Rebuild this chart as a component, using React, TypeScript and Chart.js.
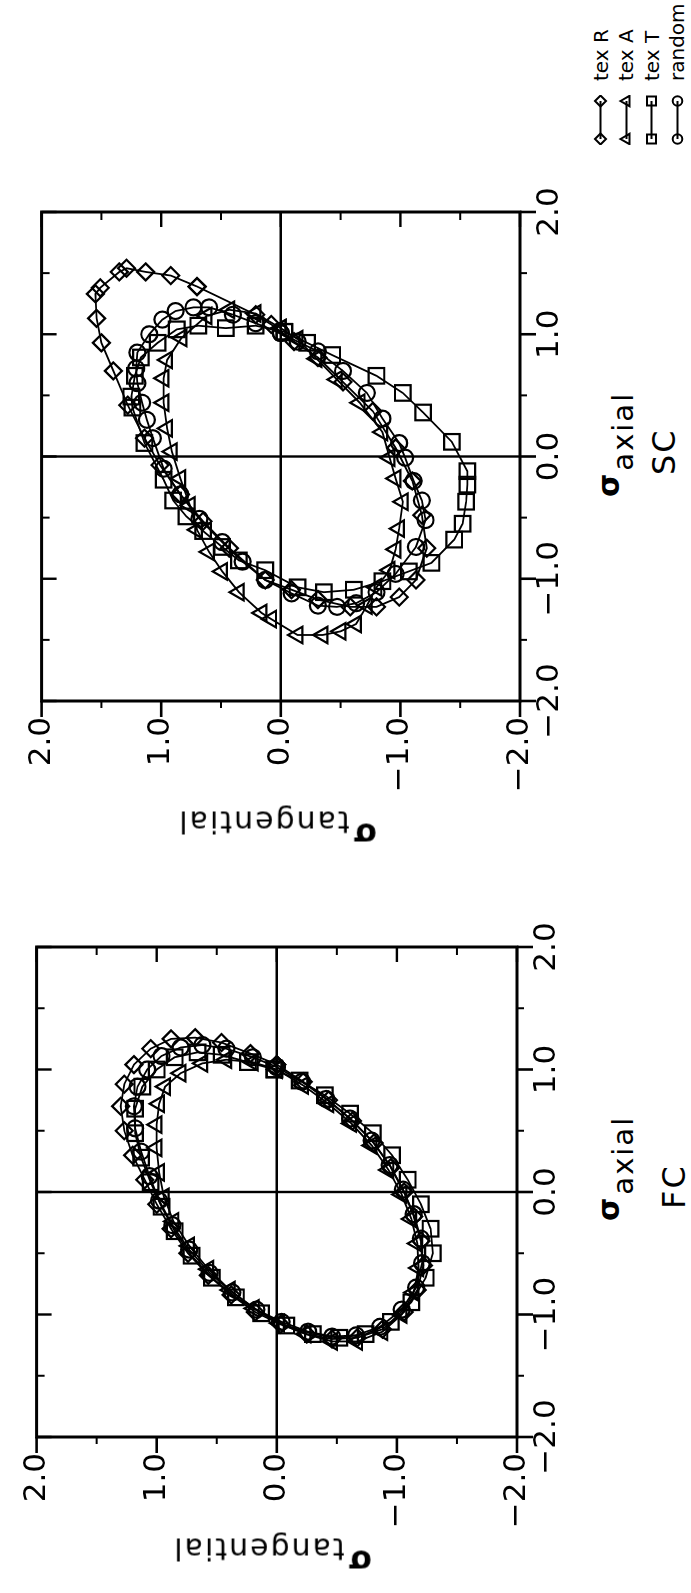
import React, { useEffect, useRef } from "react";
import { Chart, registerables } from "chart.js";

Chart.register(...registerables);

const FONT = "'DejaVu Sans', 'Liberation Sans', sans-serif";

// ---- series meta ----
const seriesNames = ["tex R", "tex A", "tex T", "random"];
const seriesMarkers = ["rectRot", "triangle", "rect", "circle"];
const markerRadius = [8.5, 9.5, 11, 8];

// ---- axes ----
const axisMin = -2;
const axisMax = 2;
const majorTicks = [-2, -1, 0, 1, 2];
const minorTicks = [-1.5, -0.5, 0.5, 1.5];
const tickLabels = ["\u22122.0", "\u22121.0", "0.0", "1.0", "2.0"];

// ---- SC panel data: [sigma_axial, sigma_tangential] ----
const scTexR = [
  [1.39, 0.7], [1.48, 0.92], [1.51, 1.13], [1.54, 1.29], [1.51, 1.35], [1.38, 1.51], [1.33, 1.55],
  [1.13, 1.54], [0.93, 1.5], [0.7, 1.4], [0.42, 1.28], [0.15, 1.14], [-0.07, 1.01], [-0.31, 0.84],
  [-0.53, 0.65], [-0.75, 0.43], [-1.01, 0.13], [-1.09, -0.09], [-1.17, -0.31], [-1.23, -0.58],
  [-1.23, -0.8], [-1.15, -0.99], [-1.01, -1.13], [-0.75, -1.22], [-0.48, -1.18], [-0.2, -1.1],
  [0.07, -0.96], [0.37, -0.77], [0.61, -0.52], [0.81, -0.31], [0.94, -0.11], [1.08, 0.08], [1.16, 0.21],
];
const scTexA = [
  [1.05, 0.0], [1.17, 0.21], [1.2, 0.43], [1.15, 0.62], [0.97, 0.83], [0.79, 0.95], [0.64, 0.98],
  [0.44, 0.98], [0.23, 0.95], [0.04, 0.91], [-0.18, 0.84], [-0.4, 0.76], [-0.6, 0.7], [-0.78, 0.6],
  [-0.94, 0.49], [-1.11, 0.35], [-1.28, 0.16], [-1.33, 0.08], [-1.46, -0.14], [-1.46, -0.35],
  [-1.43, -0.5], [-1.37, -0.63], [-1.22, -0.72], [-1.07, -0.8], [-0.93, -0.91], [-0.76, -0.96],
  [-0.59, -0.99], [-0.37, -1.02], [-0.18, -0.96], [-0.01, -0.91], [0.2, -0.85], [0.44, -0.66],
  [0.63, -0.47], [0.8, -0.3], [0.96, -0.14],
];
const scTexT = [
  [1.02, -0.03], [1.07, 0.21], [1.05, 0.46], [1.07, 0.69], [1.04, 0.87], [0.93, 1.03], [0.81, 1.17],
  [0.66, 1.22], [0.49, 1.25], [0.4, 1.24], [0.11, 1.14], [-0.19, 0.98], [-0.36, 0.9], [-0.49, 0.79],
  [-0.61, 0.65], [-0.74, 0.49], [-0.85, 0.35], [-0.93, 0.13], [-1.07, -0.14], [-1.11, -0.36],
  [-1.09, -0.61], [-1.02, -0.85], [-0.94, -1.07], [-0.87, -1.26], [-0.68, -1.45], [-0.55, -1.52],
  [-0.37, -1.55], [-0.23, -1.56], [-0.12, -1.56], [0.12, -1.43], [0.36, -1.19], [0.52, -1.02],
  [0.66, -0.8], [0.83, -0.43], [0.93, -0.22],
];
const scRandom = [
  [1.01, 0.0], [1.09, 0.21], [1.16, 0.4], [1.22, 0.6], [1.22, 0.73], [1.19, 0.88], [1.12, 0.99],
  [1.0, 1.1], [0.85, 1.2], [0.72, 1.21], [0.6, 1.2], [0.44, 1.16], [0.3, 1.12], [0.15, 1.07],
  [-0.1, 0.98], [-0.31, 0.84], [-0.51, 0.68], [-0.7, 0.49], [-0.86, 0.32], [-1.01, 0.13],
  [-1.12, -0.09], [-1.22, -0.31], [-1.23, -0.47], [-1.2, -0.63], [-1.11, -0.8], [-0.96, -0.96],
  [-0.74, -1.13], [-0.52, -1.21], [-0.36, -1.18], [-0.2, -1.11], [-0.01, -1.04], [0.11, -0.99],
  [0.31, -0.85], [0.52, -0.72], [0.7, -0.52], [0.86, -0.31], [0.94, -0.14],
];

// ---- FC panel data: [sigma_axial, sigma_tangential] ----
const fcTexR = [
  [1.04, 0.0], [1.13, 0.22], [1.22, 0.46], [1.26, 0.68], [1.25, 0.88], [1.17, 1.05], [1.04, 1.19],
  [0.88, 1.27], [0.7, 1.3], [0.5, 1.27], [0.3, 1.2], [0.1, 1.1], [-0.1, 1.0], [-0.3, 0.88],
  [-0.5, 0.74], [-0.68, 0.57], [-0.84, 0.38], [-0.98, 0.18], [-1.08, -0.03], [-1.16, -0.25],
  [-1.2, -0.46], [-1.19, -0.67], [-1.12, -0.88], [-0.98, -1.06], [-0.8, -1.17], [-0.6, -1.22],
  [-0.4, -1.2], [-0.2, -1.14], [0.0, -1.06], [0.2, -0.95], [0.4, -0.81], [0.58, -0.63],
  [0.75, -0.43], [0.9, -0.22],
];
const fcTexA = [
  [1.0, 0.0], [1.06, 0.2], [1.08, 0.42], [1.05, 0.62], [0.97, 0.8], [0.86, 0.93], [0.72, 0.98],
  [0.55, 1.0], [0.36, 1.0], [0.16, 0.98], [-0.04, 0.94], [-0.24, 0.86], [-0.44, 0.73], [-0.63, 0.57],
  [-0.8, 0.39], [-0.95, 0.19], [-1.07, -0.02], [-1.16, -0.24], [-1.22, -0.46], [-1.22, -0.67],
  [-1.14, -0.88], [-1.0, -1.04], [-0.82, -1.14], [-0.62, -1.18], [-0.42, -1.17], [-0.22, -1.12],
  [-0.02, -1.04], [0.18, -0.93], [0.38, -0.79], [0.56, -0.62], [0.72, -0.43], [0.87, -0.22],
];
const fcTexT = [
  [1.0, 0.02], [1.06, 0.24], [1.12, 0.46], [1.14, 0.66], [1.1, 0.85], [1.0, 1.0], [0.86, 1.12],
  [0.68, 1.18], [0.48, 1.18], [0.28, 1.13], [0.08, 1.05], [-0.12, 0.96], [-0.32, 0.85], [-0.52, 0.71],
  [-0.7, 0.54], [-0.86, 0.34], [-0.99, 0.13], [-1.09, -0.08], [-1.16, -0.3], [-1.19, -0.52],
  [-1.16, -0.74], [-1.06, -0.95], [-0.9, -1.12], [-0.7, -1.24], [-0.5, -1.3], [-0.3, -1.28],
  [-0.1, -1.2], [0.1, -1.09], [0.3, -0.96], [0.48, -0.8], [0.64, -0.61], [0.79, -0.4], [0.91, -0.19],
];
const fcRandom = [
  [1.02, 0.0], [1.1, 0.2], [1.17, 0.42], [1.2, 0.62], [1.18, 0.8], [1.11, 0.96], [1.0, 1.08],
  [0.86, 1.16], [0.7, 1.19], [0.52, 1.18], [0.33, 1.13], [0.13, 1.06], [-0.07, 0.98], [-0.27, 0.87],
  [-0.47, 0.73], [-0.66, 0.56], [-0.82, 0.37], [-0.96, 0.17], [-1.06, -0.04], [-1.14, -0.26],
  [-1.18, -0.46], [-1.17, -0.66], [-1.1, -0.86], [-0.96, -1.04], [-0.78, -1.16], [-0.58, -1.21],
  [-0.38, -1.2], [-0.18, -1.14], [0.02, -1.05], [0.22, -0.94], [0.42, -0.79], [0.6, -0.61],
  [0.76, -0.41], [0.9, -0.21],
];

// ---- layout (in the unrotated page frame, 1593 x 691) ----
const PAGE_W = 1593;
const PAGE_H = 691;
const Y_W = 110;
const X_H = 70;
const PAD_T = 25;
const PAD_R = 40;
const MAJOR = 15;
const MINOR = 7;

const framePlugin = {
  id: "frame",
  beforeDatasetsDraw(chart: any) {
    const { ctx, chartArea: a } = chart;
    const xs = chart.scales.x;
    const ys = chart.scales.y;
    ctx.save();
    ctx.strokeStyle = "#000";
    ctx.lineCap = "butt";
    const seg = (x1: number, y1: number, x2: number, y2: number, w: number) => {
      ctx.lineWidth = w;
      ctx.beginPath();
      ctx.moveTo(x1, y1);
      ctx.lineTo(x2, y2);
      ctx.stroke();
    };
    const x0 = xs.getPixelForValue(0);
    const y0 = ys.getPixelForValue(0);
    seg(x0, a.top, x0, a.bottom, 2.4);
    seg(a.left, y0, a.right, y0, 2.4);
    for (const v of majorTicks) {
      const px = xs.getPixelForValue(v);
      const py = ys.getPixelForValue(v);
      seg(px, a.bottom, px, a.bottom + MAJOR + 1, 2.6);
      seg(px, a.top, px, a.top + MAJOR, 2.4);
      seg(a.left - MAJOR - 1, py, a.left, py, 2.6);
      seg(a.right - MAJOR, py, a.right, py, 2.4);
    }
    for (const v of minorTicks) {
      const px = xs.getPixelForValue(v);
      const py = ys.getPixelForValue(v);
      seg(px, a.bottom, px, a.bottom + MINOR, 2);
      seg(px, a.top, px, a.top + MINOR + 1, 2);
      seg(a.left - MINOR, py, a.left, py, 2);
      seg(a.right - MINOR - 1, py, a.right, py, 2);
    }
    ctx.lineWidth = 3;
    ctx.strokeRect(a.left, a.top, a.right - a.left, a.bottom - a.top);
    ctx.restore();
  },
};

const tickCallback = (v: any) => {
  const i = majorTicks.indexOf(Math.round(Number(v) * 10) / 10);
  return i >= 0 ? tickLabels[i] : "";
};

function Panel(props: { series: number[][][]; left: number; top: number; plotW: number; plotH: number }) {
  const ref = useRef<HTMLCanvasElement>(null);
  const { series, left, top, plotW, plotH } = props;
  const w = Y_W + plotW + PAD_R;
  const h = PAD_T + plotH + X_H;
  useEffect(() => {
    const canvas = ref.current;
    if (!canvas) return;
    const chart = new Chart(canvas, {
      type: "scatter",
      data: {
        datasets: series.map((pts, i) => ({
          label: seriesNames[i],
          data: pts.concat([pts[0]]).map(([a, t]) => ({ x: a, y: t })),
          showLine: true,
          borderColor: "#000",
          borderWidth: 1.8,
          pointStyle: seriesMarkers[i] as any,
          pointRadius: markerRadius[i],
          pointHoverRadius: markerRadius[i],
          pointBorderWidth: 2.2,
          pointBorderColor: "#000",
          pointBackgroundColor: "rgba(0,0,0,0)",
        })),
      },
      options: {
        responsive: false,
        maintainAspectRatio: false,
        animation: false,
        events: [],
        layout: { padding: { top: PAD_T, right: PAD_R, left: 0, bottom: 0 } },
        plugins: { legend: { display: false }, tooltip: { enabled: false } },
        scales: {
          x: {
            type: "linear",
            position: "bottom",
            min: axisMin,
            max: axisMax,
            afterFit: (s: any) => {
              s.height = X_H;
            },
            grid: { display: false, drawTicks: false },
            border: { display: false },
            ticks: {
              stepSize: 1,
              autoSkip: false,
              maxRotation: 0,
              minRotation: 0,
              padding: 11,
              color: "#000",
              font: { family: FONT, size: 31 },
              callback: tickCallback,
            },
          },
          y: {
            type: "linear",
            position: "left",
            min: axisMin,
            max: axisMax,
            afterFit: (s: any) => {
              s.width = Y_W;
            },
            grid: { display: false, drawTicks: false },
            border: { display: false },
            ticks: {
              stepSize: 1,
              autoSkip: false,
              padding: 16,
              color: "#000",
              font: { family: FONT, size: 31 },
              callback: tickCallback,
            },
          },
        },
      } as any,
      plugins: [framePlugin],
    });
    return () => chart.destroy();
  }, []);
  return (
    <canvas
      ref={ref}
      width={w}
      height={h}
      style={{ position: "absolute", left, top, width: w, height: h }}
    />
  );
}

function LegendIcon({ marker }: { marker: string }) {
  const m = (cx: number) => {
    const cy = 12.5;
    if (marker === "rectRot")
      return <polygon points={`${cx},${cy - 5.5} ${cx + 5.5},${cy} ${cx},${cy + 5.5} ${cx - 5.5},${cy}`} />;
    if (marker === "triangle")
      return <polygon points={`${cx},${cy - 6} ${cx + 5.2},${cy + 3} ${cx - 5.2},${cy + 3}`} />;
    if (marker === "rect") return <rect x={cx - 4.5} y={cy - 4.5} width={9} height={9} />;
    return <circle cx={cx} cy={cy} r={4.8} />;
  };
  return (
    <svg width={50} height={25} style={{ display: "block" }}>
      <g fill="none" stroke="#000" strokeWidth={2}>
        <line x1={6} y1={12.5} x2={44} y2={12.5} />
        {m(6)}
        {m(44)}
      </g>
    </svg>
  );
}

function AxialTitle({ left, top, panel, panelLeft, panelTop }: any) {
  return (
    <>
      <div
        style={{
          position: "absolute",
          left,
          top,
          fontFamily: FONT,
          lineHeight: 1,
          whiteSpace: "nowrap",
          color: "#000",
        }}
      >
        <span style={{ fontSize: 30, fontWeight: "bold" }}>σ</span>
        <span style={{ fontSize: 29, letterSpacing: 2, marginLeft: 3, position: "relative", top: 14 }}>axial</span>
      </div>
      <div
        style={{
          position: "absolute",
          left: panelLeft,
          top: panelTop,
          fontFamily: FONT,
          fontSize: 32,
          lineHeight: 1,
          letterSpacing: 2,
          whiteSpace: "nowrap",
          color: "#000",
        }}
      >
        {panel}
      </div>
    </>
  );
}

function TangTitle({ cx, cy }: { cx: number; cy: number }) {
  return (
    <div
      style={{
        position: "absolute",
        left: cx,
        top: cy,
        transform: "translate(-50%, -50%) rotate(-90deg)",
        fontFamily: FONT,
        lineHeight: 1,
        whiteSpace: "nowrap",
        color: "#000",
      }}
    >
      <span style={{ fontSize: 31, fontWeight: "bold" }}>σ</span>
      <span style={{ fontSize: 30, letterSpacing: 2, marginLeft: 3, position: "relative", top: 12 }}>tangential</span>
    </div>
  );
}

export default function App() {
  return (
    <div
      style={{
        position: "absolute",
        left: 0,
        top: 0,
        width: PAGE_H,
        height: PAGE_W,
        overflow: "hidden",
        background: "#fff",
      }}
    >
      <div
        style={{
          position: "absolute",
          left: 0,
          top: 0,
          width: PAGE_W,
          height: PAGE_H,
          transformOrigin: "0 0",
          transform: `translateY(${PAGE_W}px) rotate(-90deg)`,
          background: "#fff",
        }}
      >
        {/* FC panel (left) */}
        <Panel series={[fcTexR, fcTexA, fcTexT, fcRandom]} left={46} top={2} plotW={490} plotH={490} />
        <TangTitle cx={32} cy={272} />
        <AxialTitle left={372} top={594} panel="FC" panelLeft={384} panelTop={658} />

        {/* SC panel (right) */}
        <Panel series={[scTexR, scTexA, scTexT, scRandom]} left={782} top={7} plotW={489} plotH={488} />
        <TangTitle cx={759} cy={277} />
        <AxialTitle left={1096} top={594} panel="SC" panelLeft={1118} panelTop={648} />

        {/* Legend */}
        <div style={{ position: "absolute", left: 1448, top: 588, fontFamily: FONT, fontSize: 20, color: "#000" }}>
          {seriesNames.map((name, i) => (
            <div key={name} style={{ display: "flex", alignItems: "center", height: 25.5 }}>
              <LegendIcon marker={seriesMarkers[i]} />
              <span style={{ marginLeft: 14, lineHeight: 1, whiteSpace: "nowrap" }}>{name}</span>
            </div>
          ))}
        </div>
      </div>
    </div>
  );
}
